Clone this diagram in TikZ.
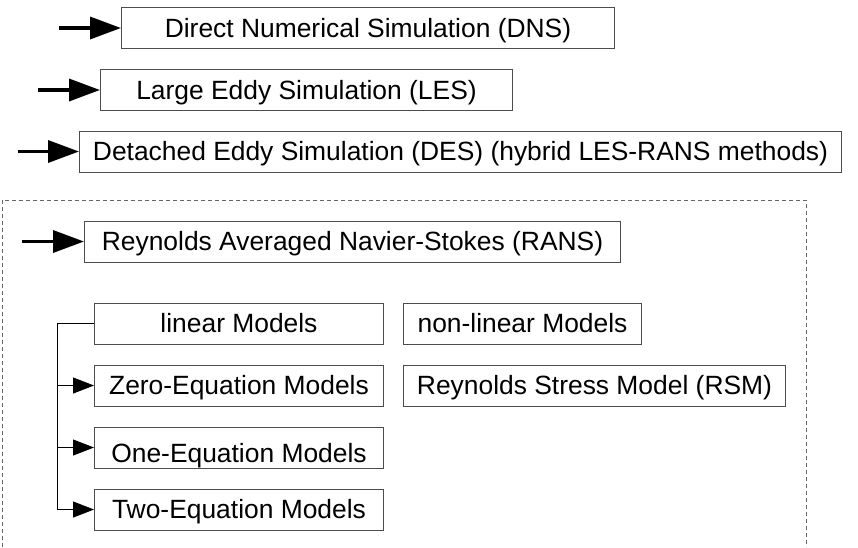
\documentclass[tikz,border=0pt]{standalone}
\usepackage{fontspec}
\setmainfont{Liberation Sans}
\usetikzlibrary{arrows.meta}

\begin{document}
\begin{tikzpicture}[x=1pt, y=-1pt,
    every node/.style={font=\fontsize{26.4}{30}\selectfont},
    box/.style={draw=black!70, line width=1pt, inner sep=0pt, minimum height=41pt,
      text height=22pt, text depth=3.4pt, anchor=west},
    big/.style={-{Triangle[length=31pt, width=22pt]}, line width=3.5pt},
    small/.style={-{Triangle[length=21pt, width=16pt]}, line width=1pt}]
    \useasboundingbox (0, 0) rectangle (858, 547);
    \draw [draw=black!60, line width=1pt, dash pattern=on 4pt off 3pt]
      (2, 547) -- (2, 200) -- (806, 200) -- (806, 547);
    \node [box, minimum width=493pt] (dns) at (121, 28) {Direct Numerical Simulation (DNS)};
    \node [box, minimum width=412pt] (les) at (100, 90) {Large Eddy Simulation (LES)};
    \node [box, minimum width=762pt] (des) at (79, 151.5) {Detached Eddy Simulation (DES) (hybrid LES-RANS methods)};
    \node [box, minimum width=536pt] (rans) at (84, 241.5) {Reynolds Averaged Navier-Stokes (RANS)};
    \node [box, minimum width=289pt] (lin) at (94, 323.5) {linear Models};
    \node [box, minimum width=238pt] (nonlin) at (403, 323.5) {non-linear Models};
    \node [box, minimum width=289pt] (zero) at (94, 385.5) {Zero-Equation Models};
    \node [box, minimum width=382pt] (rsm) at (403, 385.5) {Reynolds Stress Model (RSM)};
    \node [box, minimum width=289pt, text height=34pt] (one) at (94, 447.5) {One-Equation Models};
    \node [box, minimum width=289pt] (two) at (94, 509.5) {Two-Equation Models};
    \coordinate (d0) at (59, 28);
    \coordinate (l0) at (38, 90);
    \coordinate (e0) at (18, 151.5);
    \coordinate (r0) at (22, 241.5);
    \coordinate (trunk) at (57, 323.5);
    \draw [big] (d0) -- (dns.west);
    \draw [big] (l0) -- (les.west);
    \draw [big] (e0) -- (des.west);
    \draw [big] (r0) -- (rans.west);
    \draw [small] (lin.west) -- (trunk) |- (two.west);
    \draw [small] (trunk |- zero.west) -- (zero.west);
    \draw [small] (trunk |- one.west) -- (one.west);
\end{tikzpicture}
\end{document}
